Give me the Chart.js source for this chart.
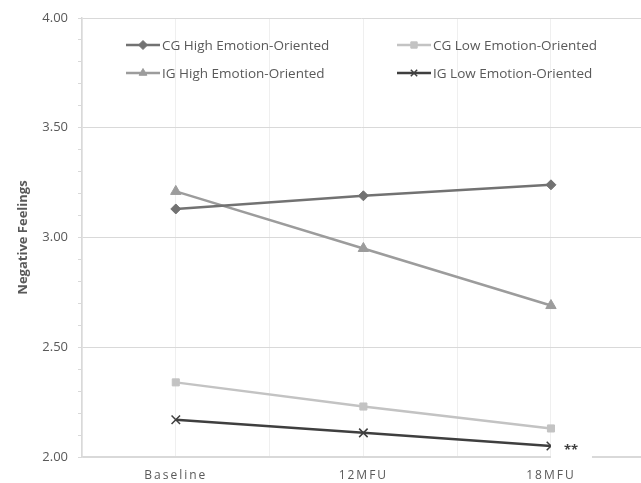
<!DOCTYPE html>
<html>
<head>
<meta charset="utf-8">
<script src="https://cdn.jsdelivr.net/npm/chart.js@4/dist/chart.umd.min.js"></script>
<style>
  html, body { margin: 0; padding: 0; background: #fff; }
  #wrap { width: 641px; height: 483px; }
</style>
</head>
<body>
<div id="wrap"><canvas id="feelChart" width="641" height="483"></canvas></div>
<script>
const categories = ['Baseline', '12MFU', '18MFU'];
const cgHigh = [3.13, 3.19, 3.24];
const cgLow = [2.34, 2.23, 2.13];
const igHigh = [3.21, 2.95, 2.69];
const igLow = [2.17, 2.11, 2.05];
const seriesNames = ['CG High Emotion-Oriented', 'CG Low Emotion-Oriented', 'IG High Emotion-Oriented', 'IG Low Emotion-Oriented'];
const yTitle = 'Negative Feelings';
const note = '**';

const txt = '#595959';
const font = '"Open Sans", sans-serif';
const isMajor = v => Math.abs(v * 2 - Math.round(v * 2)) < 1e-6;
const pts = arr => arr.map((v, i) => ({ x: i, y: v }));

function series(label, data, color, style, radius) {
  return {
    label, data: pts(data),
    borderColor: color, backgroundColor: color,
    borderWidth: 2.5, pointStyle: style, pointRadius: radius,
    pointBorderColor: color, pointBackgroundColor: color,
    pointBorderWidth: style === 'crossRot' ? 1.5 : 1,
    tension: 0
  };
}

const sets = [
  series(seriesNames[0], cgHigh, '#727272', 'rectRot', 5),
  series(seriesNames[1], cgLow, '#c3c3c3', 'rect', 5),
  series(seriesNames[2], igHigh, '#9c9c9c', 'triangle', 6),
  series(seriesNames[3], igLow, '#3f3f3f', 'crossRot', 6)
];

// legend drawn by hand: 2 x 2 grid inside the plot
const legendBox = {
  id: 'legendBox',
  afterDraw(chart) {
    const ctx = chart.ctx;
    const cols = [126, 397], rows = [45, 73];
    chart.data.datasets.forEach((ds, i) => {
      const x = cols[i % 2], y = rows[Math.floor(i / 2)];
      ctx.save();
      ctx.strokeStyle = ds.borderColor;
      ctx.fillStyle = ds.borderColor;
      ctx.lineWidth = 2.5;
      ctx.beginPath();
      ctx.moveTo(x, y); ctx.lineTo(x + 34, y);
      ctx.stroke();
      ctx.lineWidth = ds.pointBorderWidth;
      Chart.helpers.drawPoint(ctx, { pointStyle: ds.pointStyle, radius: 4.5, borderWidth: ds.pointBorderWidth, rotation: 0 }, x + 17, y);
      ctx.fillStyle = txt;
      ctx.font = '13.5px ' + font;
      ctx.textBaseline = 'middle';
      ctx.fillText(ds.label, x + 36, y + 1);
      ctx.restore();
    });

    // significance mark next to the last IG low point
    const xs = chart.scales.x, ys = chart.scales.y;
    const px = xs.getPixelForValue(igLow.length - 1);
    const py = ys.getPixelForValue(igLow[igLow.length - 1]);
    ctx.save();
    ctx.fillStyle = '#fff';
    ctx.fillRect(px, py - 9, 41, 28);
    ctx.fillStyle = '#404040';
    ctx.font = 'bold 13px ' + font;
    ctx.textBaseline = 'middle';
    ctx.fillText(note, px + 13, py + 4);
    ctx.restore();
  }
};

// letter spaced category labels
const spacedX = {
  id: 'spacedX',
  beforeDraw(chart) {
    const sc = chart.scales.x;
    if (sc._spaced) return;
    const orig = sc.drawLabels;
    sc.drawLabels = function (area) {
      const c = this.ctx;
      c.save();
      c.letterSpacing = '2px';
      orig.call(this, area);
      c.restore();
    };
    sc._spaced = true;
  }
};

new Chart(document.getElementById('feelChart'), {
  type: 'line',
  data: { datasets: sets },
  plugins: [spacedX, legendBox],
  options: {
    responsive: false,
    animation: false,
    layout: { autoPadding: false, padding: { top: 18, right: 0, left: 0, bottom: 0 } },
    plugins: { legend: { display: false }, tooltip: { enabled: false } },
    scales: {
      x: {
        type: 'linear', min: -0.5, max: 2.48,
        afterFit: s => { s.height = 26; s.paddingRight = 0; s.paddingLeft = 0; },
        border: { color: '#d9d9d9', width: 1.5 },
        grid: {
          color: c => isMajor(c.tick.value) ? '#efefef' : 'rgba(0,0,0,0)',
          lineWidth: 1, drawTicks: false
        },
        ticks: {
          stepSize: 0.5, autoSkip: false, maxRotation: 0, padding: 11,
          color: txt, font: { family: font, size: 12 },
          callback: v => Number.isInteger(v) ? categories[v] : ''
        }
      },
      y: {
        min: 2, max: 4,
        afterFit: s => { s.width = 82; },
        border: { color: '#d9d9d9', width: 1.5 },
        grid: {
          color: c => isMajor(c.tick.value) ? '#d9d9d9' : 'rgba(0,0,0,0)',
          tickColor: '#d9d9d9', tickLength: 4, lineWidth: 1
        },
        ticks: {
          stepSize: 0.1, autoSkip: false, padding: 10,
          color: txt, font: { family: font, size: 13 },
          callback: v => isMajor(v) ? v.toFixed(2) : ''
        },
        title: {
          display: true, text: yTitle, color: txt,
          font: { family: font, size: 13, weight: 'bold' }, padding: { top: 15, bottom: 0 }
        }
      }
    }
  }
});
</script>
</body>
</html>
